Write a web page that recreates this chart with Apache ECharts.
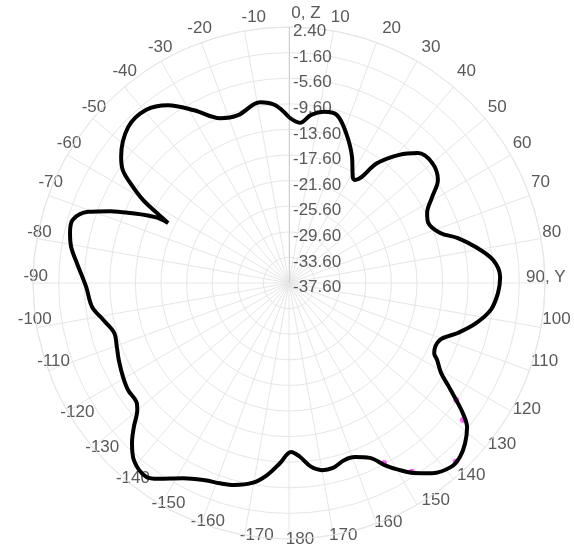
<!DOCTYPE html>
<html>
<head>
<meta charset="utf-8">
<script src="https://cdn.jsdelivr.net/npm/echarts@6/dist/echarts.min.js"></script>
<style>
html,body{margin:0;padding:0;background:#fff;}
#chart{width:574px;height:548px;}
</style>
</head>
<body>
<div id="chart"></div>
<script>
// Angles in degrees (0 = top, clockwise positive), gain in dB
const angles = [0,3.9,7.5,11.6,15.9,20.8,26.6,31.1,32.6,36.3,40.7,44.8,50.0,55.3,59.0,63.1,66.6,71.7,75.1,79.1,83.6,88.4,92.7,97.6,102.1,106.5,110.7,115.8,117.5,120.6,123.0,125.0,126.8,129.0,132.3,135.5,138.6,143.0,146.7,149.5,152.2,155.2,159.2,162.7,166.6,170.0,173.2,176.4,179.3,
  -177.1,-173.5,-169.8,-164.8,-161.0,-156.9,-151.5,-146.2,-143.8,-138.8,-135.5,-132.9,-129.9,-128.3,-123.6,-119.5,-114.4,-110.4,-105.9,-101.2,-96.9,-91.1,-84.6,-80.6,-77.1,-73.7,-70.5,-68.1,-66.2,-63.8,-63.6,-62.1,-60.4,-57.8,-55.8,-53.1,-45.9,-39.6,-34.2,-28.8,-22.7,-16.9,-9.1,-4.5];
const gain = [-11.7,-12.5,-11.1,-10.3,-10.3,-12.5,-15.6,-18.3,-18.5,-14.4,-11.2,-9.0,-8.4,-9.3,-11.5,-13.4,-13.9,-12.7,-10.3,-7.9,-5.5,-4.6,-4.9,-5.8,-7.7,-10.1,-12.4,-12.4,-11.5,-10.0,-7.8,-5.7,-3.7,-1.8,-0.4,0.5,0.7,-0.4,-2.1,-3.7,-5.4,-7.5,-8.5,-8.6,-7.9,-7.9,-8.7,-10.4,-11.2,
  -9.4,-7.4,-5.9,-4.9,-4.5,-4.1,-2.9,-0.8,0.0,-0.8,-2.6,-4.5,-6.7,-7.3,-7.4,-7.8,-8.4,-8.9,-9.2,-8.0,-6.6,-5.9,-4.3,-3.1,-2.5,-2.4,-4.3,-7.5,-10.5,-14.3,-16.5,-14.3,-11.4,-8.3,-6.2,-4.8,-2.6,-2.5,-4.0,-6.8,-9.7,-10.2,-9.0,-9.7];
// Highlighted (magenta) marker points
const markAngles = [125.0,128.2,137.0,146.9,152.2];
const markGain = [-5.7,-3.0,0.6,-2.4,-5.8];
// Axis ticks
const radiusMin = -37.6, radiusMax = 2.4, radiusStep = 4;
const angleStep = 10;
const axisNames = { 0: '0, Z', 90: '90, Y' };

const toPolar = a => (a < 0 ? a + 360 : a);
const lineData = angles.map((a, i) => [gain[i], toPolar(a)]);
lineData.push([gain[0], 360]);
const markData = markAngles.map((a, i) => [markGain[i], toPolar(a)]);

const fontFamily = 'Liberation Sans, Arial, sans-serif';
const labelColor = '#595959';
const fontSize = 17;

const tickText = v => (v in axisNames ? axisNames[v] : String(v > 180 ? v - 360 : v));

// label-only polar systems: each shows a group of angle tick labels
const labelGroups = [
  { center: [297, 271], radius: 249, ticks: [10, 20, 30, 40, 320, 330, 340, 350] },
  { center: [306, 276], radius: 254, ticks: [0] },
  { center: [297, 277], radius: 229, ticks: [90] },
  { center: [297, 276], radius: 249, ticks: [50, 60, 70, 80, 100, 120, 130, 140, 150, 260, 270, 280, 290, 300, 310] },
  { center: [297, 268], radius: 249, ticks: [110] },
  { center: [304, 268], radius: 249, ticks: [250] },
  { center: [310, 279], radius: 249, ticks: [200, 210, 220, 230, 240] },
  { center: [300, 282], radius: 249, ticks: [170, 180, 190] },
  { center: [289, 280], radius: 249, ticks: [160] }
];

const polar = [{ center: [289, 283], radius: 256 }].concat(
  labelGroups.map(g => ({ center: g.center, radius: g.radius })));

const angleAxis = [{
  polarIndex: 0,
  type: 'value', min: 0, max: 360, interval: angleStep,
  startAngle: 90, clockwise: true,
  axisLine: { show: true, lineStyle: { color: '#e6e6e6', width: 1 } },
  axisTick: { show: false },
  splitLine: { show: true, lineStyle: { color: '#e6e6e6', width: 1 } },
  axisLabel: { show: false }
}].concat(labelGroups.map((g, i) => ({
  polarIndex: i + 1,
  type: 'value', min: 0, max: 360, interval: angleStep,
  startAngle: 90, clockwise: true,
  axisLine: { show: false }, axisTick: { show: false }, splitLine: { show: false },
  axisLabel: {
    margin: 0, color: labelColor, fontFamily: fontFamily, fontSize: fontSize,
    formatter: v => (g.ticks.indexOf(v) >= 0 ? tickText(v) : '')
  }
})));

const radiusAxis = [{
  polarIndex: 0,
  type: 'value', min: radiusMin, max: radiusMax, interval: radiusStep,
  axisLine: { show: true, lineStyle: { color: '#d0d0d0' } },
  axisTick: { show: false },
  splitLine: { show: true, lineStyle: { color: '#e6e6e6', width: 1 } },
  axisLabel: {
    color: labelColor, fontFamily: fontFamily, fontSize: fontSize,
    margin: -4, align: 'left', verticalAlign: 'top', lineHeight: 9,
    formatter: v => v.toFixed(2)
  }
}].concat(labelGroups.map((g, i) => ({
  polarIndex: i + 1,
  type: 'value', min: radiusMin, max: radiusMax, interval: radiusStep,
  axisLine: { show: false }, axisTick: { show: false },
  splitLine: { show: false }, axisLabel: { show: false }
})));

const chart = echarts.init(document.getElementById('chart'), null, {renderer: 'canvas'});
chart.setOption({
  animation: false,
  backgroundColor: '#fff',
  polar: polar,
  angleAxis: angleAxis,
  radiusAxis: radiusAxis,
  series: [
    {
      type: 'line', coordinateSystem: 'polar', polarIndex: 0, data: lineData,
      showSymbol: false, smooth: 0.35,
      lineStyle: { color: '#000', width: 4 }
    },
    {
      type: 'scatter', coordinateSystem: 'polar', polarIndex: 0, data: markData,
      symbolSize: 6, itemStyle: { color: '#ff33ff' }
    }
  ]
});
</script>
</body>
</html>
